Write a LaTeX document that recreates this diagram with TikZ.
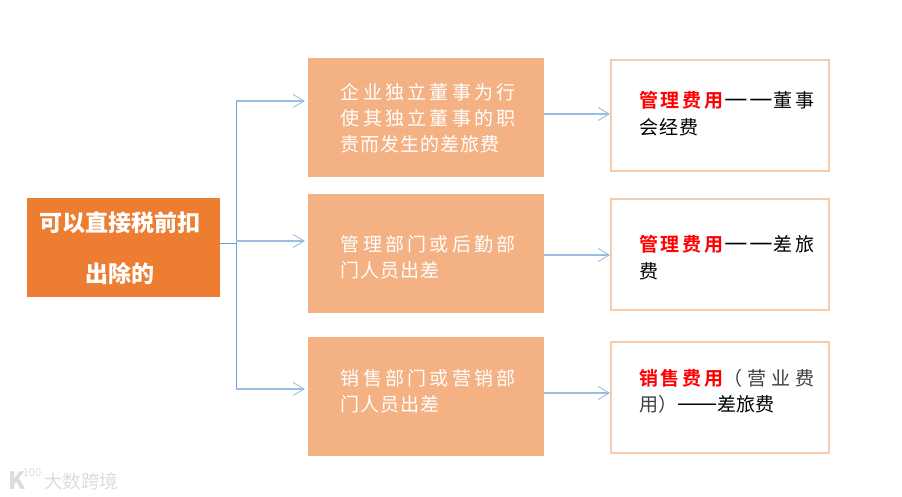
\documentclass[tikz,border=0pt]{standalone}
\usepackage{fontspec}
\usetikzlibrary{arrows.meta}
\setmainfont{Noto Sans CJK SC}
\newfontfamily\sw[LetterSpace=17.5]{Noto Sans CJK SC}
\newfontfamily\sn[LetterSpace=5]{Noto Sans CJK SC}
\newfontfamily\swb[LetterSpace=14]{Noto Sans CJK SC Bold}
\newfontfamily\snw[LetterSpace=14]{Noto Sans CJK SC}
\newfontfamily\snx[LetterSpace=26]{Noto Sans CJK SC}
\definecolor{orangeA}{HTML}{ED7D31}
\definecolor{orangeB}{HTML}{F4B183}
\definecolor{orangeC}{HTML}{F8CBAD}
\definecolor{arrowA}{HTML}{9ABDE0}
\definecolor{lineA}{HTML}{6F9FD0}
\definecolor{wm}{HTML}{DCDCDC}
\tikzset{
  x=1pt,y=-1pt,
  rootbox/.style={fill=orangeA,draw=none,minimum width=193pt,minimum height=99pt,inner sep=0pt,anchor=north west},
  midbox/.style={fill=orangeB,draw=none,minimum width=236pt,minimum height=119pt,inner sep=0pt,anchor=north west},
  costbox/.style={draw=orangeC,line width=2pt,fill=white,minimum width=218pt,minimum height=111pt,inner sep=0pt,anchor=north west},
  midtext/.style={text=white,font=\fontsize{19}{19}\selectfont,anchor=west,inner sep=0pt},
  costtext/.style={text=black,font=\fontsize{19}{19}\selectfont,anchor=west,inner sep=0pt},
  roottext/.style={text=white,font=\fontsize{23}{23}\selectfont\bfseries,anchor=center,inner sep=0pt},
  trunk/.style={draw=lineA,line width=1pt},
  link/.style={draw=arrowA,line width=1.2pt,-{Straight Barb[length=11pt,width=13pt,line width=0.9pt]}},
  toMid/.style={link,shorten >=3pt},
}
\newcommand{\dashpair}{{\fontsize{26.5}{26.5}\selectfont\kern1pt —\kern2pt —}}
\begin{document}
\begin{tikzpicture}
\useasboundingbox (0,0) rectangle (902,497);
\node[rootbox] (root) at (27,198) {};
\node[midbox] (m1) at (308,58) {};
\node[midbox] (m2) at (308,194) {};
\node[midbox] (m3) at (308,337) {};
\node[costbox] (c1) at (610,59) {};
\node[costbox] (c2) at (610,198) {};
\node[costbox] (c3) at (610,341) {};
% connectors
\coordinate (j0) at (236,243);
\coordinate (j1) at (236,101);
\coordinate (j3) at (236,389);
\draw[trunk] (root.east |- j0) -- (j0);
\draw[trunk] (j1) -- (j3);
\draw[toMid] (j1) -- (m1.west |- j1);
\draw[toMid] (j0 |- 0,241) -- (m2.west |- 0,241);
\draw[toMid] (j3) -- (m3.west |- j3);
\draw[link] (m1.east |- 0,114) -- (c1.west |- 0,114);
\draw[link] (m2.east |- 0,255) -- (c2.west |- 0,255);
\draw[link] (m3.east |- 0,393) -- (c3.west |- 0,393);
% root text
\node[roottext] (r1) at (120,223) {可以直接税前扣};
\node[roottext] (r2) at (120,274) {出除的};
% middle texts
\node[midtext] (t11) at (340.5,92) {\sw 企业独立董事为行};
\node[midtext] (t12) at (340.5,118) {\sw 使其独立董事的职};
\node[midtext] (t13) at (340.5,144) {\sn 责而发生的差旅费};
\node[midtext] (t21) at (340.5,244) {\sw 管理部门或后勤部};
\node[midtext] (t22) at (340.5,270) {\sn 门人员出差};
\node[midtext] (t31) at (340.5,378) {\sw 销售部门或营销部};
\node[midtext] (t32) at (340.5,404) {\sn 门人员出差};
% cost texts
\node[costtext] (u11) at (639,100) {\textcolor{red}{\swb 管理费用}\dashpair{\snw 董事}};
\node[costtext] (u12) at (639,127) {\sn 会经费};
\node[costtext] (u21) at (639,244) {\textcolor{red}{\swb 管理费用}\dashpair{\snw 差旅}};
\node[costtext] (u22) at (639,271) {费};
\node[costtext] (u31) at (639,378) {\textcolor{red}{\swb 销售费用}\textcolor{black!75}{\snx （营业费}};
\node[costtext] (u32) at (639,404) {\textcolor{black!75}{用）}{\fontsize{24}{24}\selectfont ——}差旅费};
% watermark
\node[text=wm,font=\fontsize{24}{24}\selectfont\bfseries,anchor=center,inner sep=0pt] (k) at (17,481) {K};
\node[text=wm,font=\fontsize{11}{11}\selectfont,anchor=center,inner sep=0pt] (h) at (32,473) {100};
\node[text=wm,font=\fontsize{18.5}{18.5}\selectfont,anchor=west,inner sep=0pt] (w) at (44,481) {大数跨境};
\end{tikzpicture}
\end{document}
